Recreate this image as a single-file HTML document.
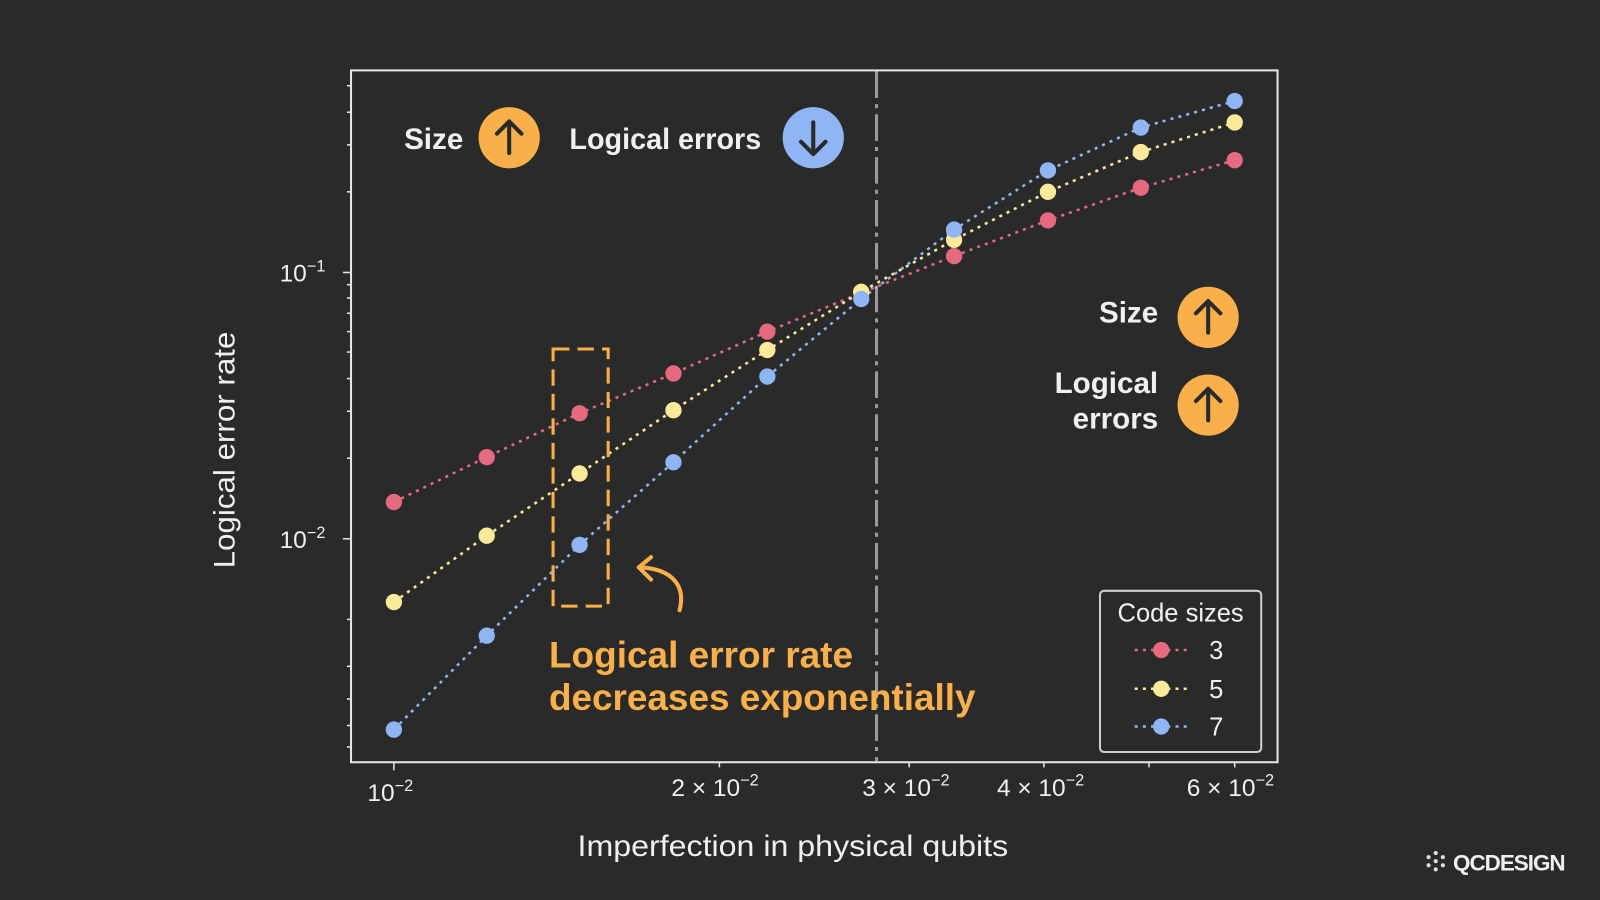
<!DOCTYPE html>
<html><head><meta charset="utf-8"><style>
html,body{margin:0;padding:0;background:#2a2a2a;width:1600px;height:900px;overflow:hidden}
svg{display:block}
text{font-family:"Liberation Sans","DejaVu Sans",sans-serif;fill:#f0f0f0}
</style></head><body>
<svg width="1600" height="900" viewBox="0 0 1568 882" preserveAspectRatio="none">
<rect width="1568" height="882" fill="#2a2a2a"/>
<line x1="859" y1="70" x2="859" y2="746" stroke="#9a9a9a" stroke-width="3" stroke-dasharray="26,6,4,6"/>
<rect x="344" y="69" width="908" height="678" fill="none" stroke="#e6e6e6" stroke-width="2"/>
<g stroke="#e6e6e6" stroke-width="1.5">
<line x1="336" y1="267" x2="344" y2="267"/><line x1="336" y1="528" x2="344" y2="528"/>
<line x1="340" y1="449" x2="344" y2="449"/><line x1="340" y1="403" x2="344" y2="403"/><line x1="340" y1="371" x2="344" y2="371"/><line x1="340" y1="345" x2="344" y2="345"/><line x1="340" y1="325" x2="344" y2="325"/><line x1="340" y1="307" x2="344" y2="307"/><line x1="340" y1="292" x2="344" y2="292"/><line x1="340" y1="279" x2="344" y2="279"/>
<line x1="340" y1="188" x2="344" y2="188"/><line x1="340" y1="142" x2="344" y2="142"/><line x1="340" y1="110" x2="344" y2="110"/><line x1="340" y1="84" x2="344" y2="84"/>
<line x1="340" y1="607" x2="344" y2="607"/><line x1="340" y1="653" x2="344" y2="653"/><line x1="340" y1="685" x2="344" y2="685"/><line x1="340" y1="711" x2="344" y2="711"/><line x1="340" y1="732" x2="344" y2="732"/>
<line x1="386" y1="747" x2="386" y2="755"/><line x1="705" y1="747" x2="705" y2="752"/><line x1="891" y1="747" x2="891" y2="752"/><line x1="1023" y1="747" x2="1023" y2="752"/><line x1="1126" y1="747" x2="1126" y2="752"/><line x1="1210" y1="747" x2="1210" y2="752"/>
</g>
<g font-size="24">
<text x="274" y="276">10<tspan font-size="16" dy="-10">−1</tspan></text>
<text x="274" y="537">10<tspan font-size="16" dy="-10">−2</tspan></text>
<text x="360" y="785">10<tspan font-size="16" dy="-10">−2</tspan></text>
<text x="658" y="780">2 × 10<tspan font-size="16" dy="-10">−2</tspan></text>
<text x="845" y="780">3 × 10<tspan font-size="16" dy="-10">−2</tspan></text>
<text x="977" y="780">4 × 10<tspan font-size="16" dy="-10">−2</tspan></text>
<text x="1163" y="780">6 × 10<tspan font-size="16" dy="-10">−2</tspan></text>
</g>
<text x="566" y="839" font-size="29" textLength="422" lengthAdjust="spacingAndGlyphs">Imperfection in physical qubits</text>
<text transform="translate(230,557) rotate(-90)" font-size="29" textLength="232" lengthAdjust="spacingAndGlyphs">Logical error rate</text>
<g stroke-width="2.5" stroke-dasharray="3,5" fill="none">
<polyline stroke="#e5697f" points="386,492 477,448 568,405 660,366 752,325 844,287 935,251 1027,216 1118,184 1210,157"/>
<polyline stroke="#fce99a" points="386,590 477,525 568,464 660,402 752,343 844,286 935,235 1027,188 1118,149 1210,120"/>
<polyline stroke="#8fb5f5" points="386,715 477,623 568,534 660,453 752,369 844,293 935,225 1027,167 1118,125 1210,99"/>
</g>
<g fill="#e5697f"><circle cx="386" cy="492" r="8"/><circle cx="477" cy="448" r="8"/><circle cx="568" cy="405" r="8"/><circle cx="660" cy="366" r="8"/><circle cx="752" cy="325" r="8"/><circle cx="844" cy="287" r="8"/><circle cx="935" cy="251" r="8"/><circle cx="1027" cy="216" r="8"/><circle cx="1118" cy="184" r="8"/><circle cx="1210" cy="157" r="8"/></g>
<g fill="#fce99a"><circle cx="386" cy="590" r="8"/><circle cx="477" cy="525" r="8"/><circle cx="568" cy="464" r="8"/><circle cx="660" cy="402" r="8"/><circle cx="752" cy="343" r="8"/><circle cx="844" cy="286" r="8"/><circle cx="935" cy="235" r="8"/><circle cx="1027" cy="188" r="8"/><circle cx="1118" cy="149" r="8"/><circle cx="1210" cy="120" r="8"/></g>
<g fill="#8fb5f5"><circle cx="386" cy="715" r="8"/><circle cx="477" cy="623" r="8"/><circle cx="568" cy="534" r="8"/><circle cx="660" cy="453" r="8"/><circle cx="752" cy="369" r="8"/><circle cx="844" cy="293" r="8"/><circle cx="935" cy="225" r="8"/><circle cx="1027" cy="167" r="8"/><circle cx="1118" cy="125" r="8"/><circle cx="1210" cy="99" r="8"/></g>
<rect x="542" y="342" width="54" height="252" fill="none" stroke="#f9b04a" stroke-width="3" stroke-dasharray="16,8"/>
<path d="M666 598 C672 575 660 558 628 556 M638 546 L626 556 L638 568" fill="none" stroke="#f9b04a" stroke-width="4" stroke-linecap="round" stroke-linejoin="round"/>
<text x="538" y="654" font-size="36" font-weight="bold" style="fill:#f9b04a" textLength="298" lengthAdjust="spacingAndGlyphs">Logical error rate</text>
<text x="538" y="696" font-size="36" font-weight="bold" style="fill:#f9b04a" textLength="418" lengthAdjust="spacingAndGlyphs">decreases exponentially</text>
<g font-size="29" font-weight="bold">
<text x="396" y="146">Size</text>
<text x="558" y="146" textLength="188" lengthAdjust="spacingAndGlyphs">Logical errors</text>
<text x="1135" y="316" text-anchor="end">Size</text>
<text x="1135" y="385" text-anchor="end">Logical</text>
<text x="1135" y="420" text-anchor="end">errors</text>
</g>
<g stroke="#2a2a2a" stroke-width="4" fill="none" stroke-linecap="round" stroke-linejoin="round">
<circle cx="499" cy="135" r="30" fill="#f9b04a" stroke="none"/><path d="M499 150 V120 M487 131 L499 119 L511 131"/>
<circle cx="797" cy="135" r="30" fill="#8fb5f5" stroke="none"/><path d="M797 120 V150 M785 139 L797 151 L809 139"/>
<circle cx="1184" cy="311" r="30" fill="#f9b04a" stroke="none"/><path d="M1184 326 V296 M1172 307 L1184 295 L1196 307"/>
<circle cx="1184" cy="397" r="30" fill="#f9b04a" stroke="none"/><path d="M1184 412 V382 M1172 393 L1184 381 L1196 393"/>
</g>
<rect x="1078" y="579" width="158" height="158" rx="4" fill="#2a2a2a" stroke="#cfcfcf" stroke-width="2"/>
<text x="1157" y="609" font-size="25" text-anchor="middle">Code sizes</text>
<g stroke-width="2.5" stroke-dasharray="3,5"><line x1="1112" y1="637" x2="1164" y2="637" stroke="#e5697f"/><line x1="1112" y1="675" x2="1164" y2="675" stroke="#fce99a"/><line x1="1112" y1="712" x2="1164" y2="712" stroke="#8fb5f5"/></g>
<circle cx="1138" cy="637" r="8" fill="#e5697f"/><circle cx="1138" cy="675" r="8" fill="#fce99a"/><circle cx="1138" cy="712" r="8" fill="#8fb5f5"/>
<g font-size="25"><text x="1185" y="646">3</text><text x="1185" y="684">5</text><text x="1185" y="721">7</text></g>
<g fill="#e0e0e0"><circle cx="1400" cy="840" r="2"/><circle cx="1407" cy="836" r="2"/><circle cx="1414" cy="840" r="2"/><circle cx="1400" cy="848" r="2"/><circle cx="1407" cy="852" r="2"/><circle cx="1414" cy="848" r="2"/><circle cx="1407" cy="844" r="2"/></g>
<text x="1424" y="853" font-size="22" font-weight="bold" letter-spacing="-1">QCDESIGN</text>
</svg>
</body></html>
